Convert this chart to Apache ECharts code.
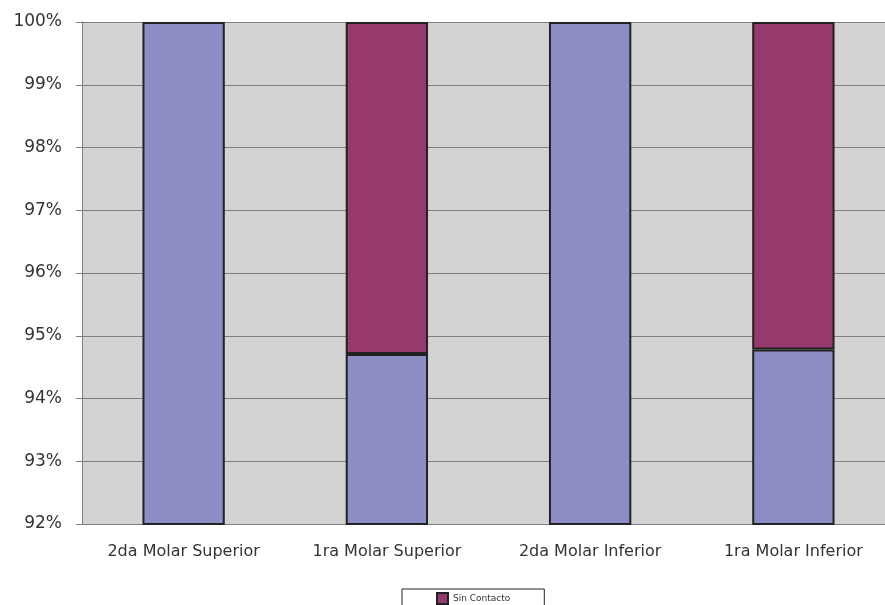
<!DOCTYPE html>
<html>
<head>
<meta charset="utf-8">
<script src="https://cdn.jsdelivr.net/npm/echarts@6/dist/echarts.min.js"></script>
<style>html,body{margin:0;padding:0;background:#fff;}#c{width:885px;height:605px;}</style>
</head>
<body>
<div id="c"></div>
<script>
const categories = ['2da Molar Superior', '1ra Molar Superior', '2da Molar Inferior', '1ra Molar Inferior'];
const conContacto = [100, 94.71, 100, 94.78];
const sinContacto = [null, 5.29, null, 5.22];
const yTicks = [92, 93, 94, 95, 96, 97, 98, 99, 100];

const chart = echarts.init(document.getElementById('c'), null, {renderer: 'canvas'});
const font = '"DejaVu Sans", sans-serif';
chart.setOption({
  animation: false,
  backgroundColor: '#ffffff',
  grid: {left: 82, top: 22, width: 813, height: 502, backgroundColor: '#D3D3D3', show: true, borderWidth: 0,
         containLabel: false, outerBoundsMode: 'none'},
  legend: {
    data: ['Sin Contacto'],
    left: 402, top: 589,
    padding: [3, 34, 12, 34],
    borderColor: '#222', borderWidth: 1, backgroundColor: '#fff',
    icon: 'rect',
    itemWidth: 11, itemHeight: 11, itemGap: 10,
    textStyle: {fontFamily: font, fontSize: 9, color: '#333'}
  },
  xAxis: {
    type: 'category', data: categories,
    axisLine: {lineStyle: {color: '#808080', width: 1}},
    axisTick: {lineStyle: {color: '#808080'}, length: 6},
    axisLabel: {fontFamily: font, fontSize: 16, color: '#333', margin: 20}
  },
  yAxis: {
    type: 'value', min: yTicks[0], max: yTicks[yTicks.length - 1], interval: 1,
    axisLine: {show: true, lineStyle: {color: '#808080', width: 1}},
    axisTick: {show: true, length: 6, lineStyle: {color: '#808080'}},
    splitLine: {lineStyle: {color: '#808080', width: 1}},
    axisLabel: {fontFamily: font, fontSize: 17, color: '#333', margin: 20, formatter: v => v + '%'}
  },
  series: [
    {name: 'Con Contacto', type: 'bar', stack: 's', data: conContacto, barWidth: '40.5%',
     itemStyle: {color: '#8B8DC4', borderColor: '#222', borderWidth: 2}},
    {name: 'Sin Contacto', type: 'bar', stack: 's', data: sinContacto, barWidth: '40.5%',
     itemStyle: {color: '#963A6E', borderColor: '#222', borderWidth: 2}}
  ]
});
</script>
</body>
</html>
